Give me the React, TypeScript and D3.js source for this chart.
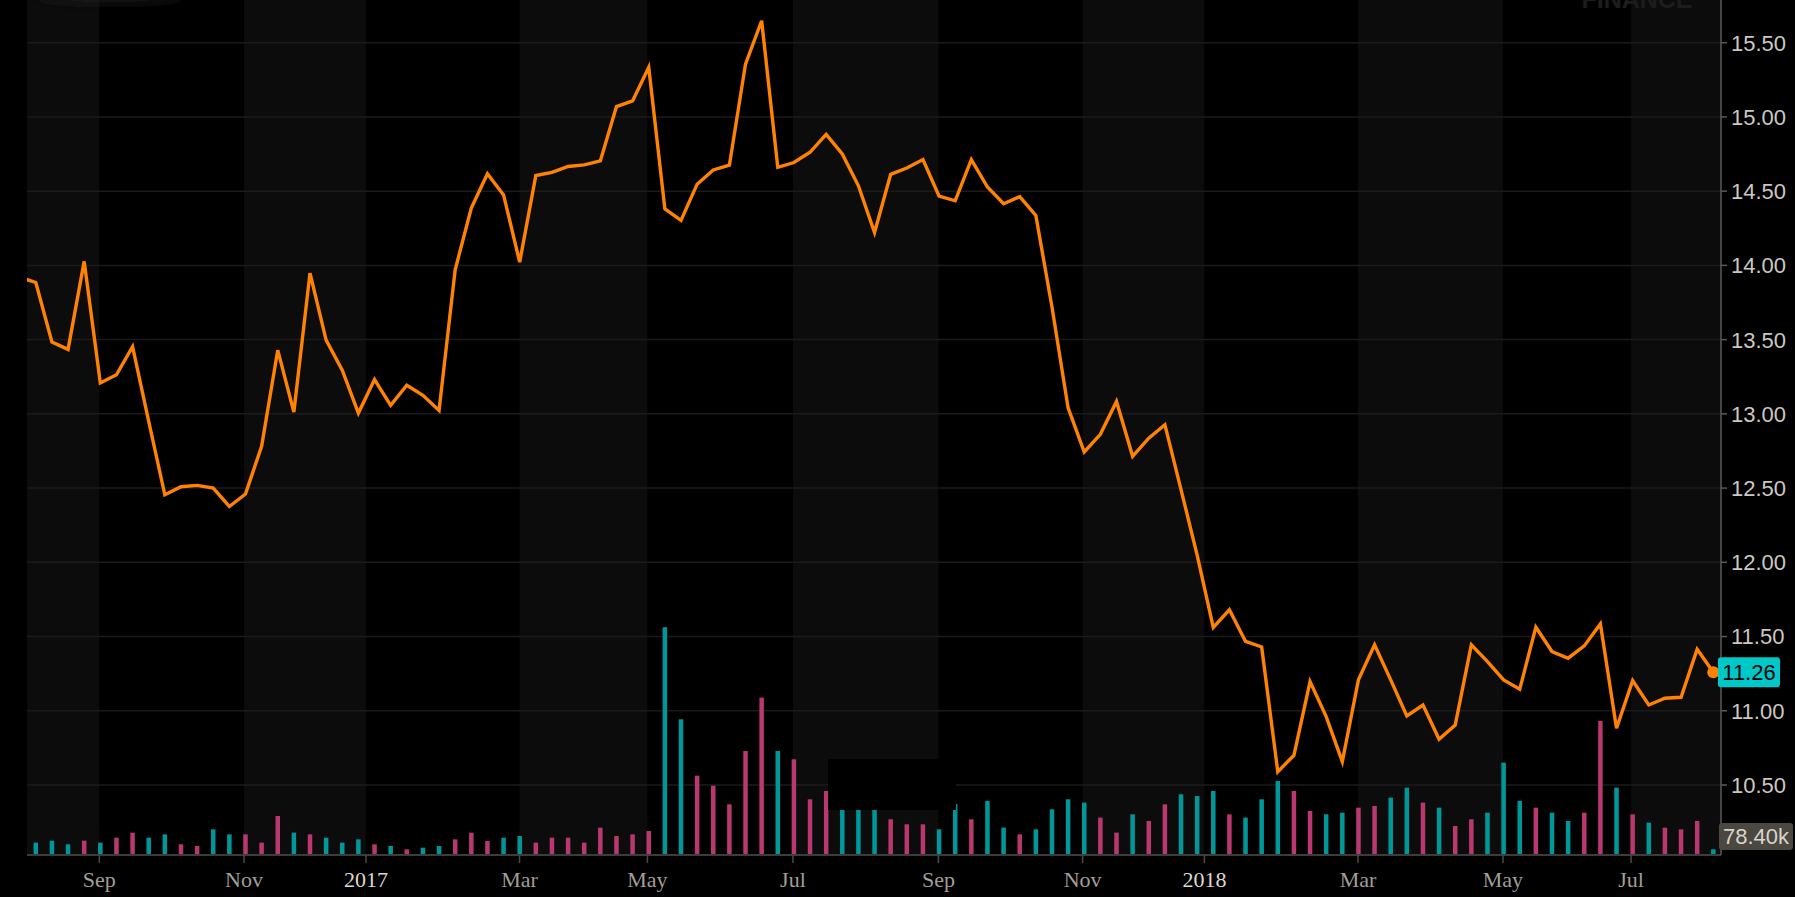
import React from "react";
import * as d3 from "d3";

// ---- data (weekly) ----
const prices: number[] = [
  13.92, 13.885, 13.484, 13.434, 14.027, 13.208, 13.263, 13.452, 12.95, 12.455,
  12.509, 12.518, 12.5, 12.376, 12.46, 12.782, 13.429, 13.012, 13.948, 13.497,
  13.294, 13.005, 13.231, 13.057, 13.193, 13.125, 13.023, 13.971, 14.386, 14.617,
  14.475, 14.022, 14.605, 14.626, 14.666, 14.677, 14.704, 15.07, 15.108, 15.334,
  14.381, 14.303, 14.547, 14.643, 14.675, 15.356, 15.648, 14.661, 14.693, 14.762,
  14.883, 14.751, 14.536, 14.222, 14.613, 14.656, 14.713, 14.466, 14.435, 14.713,
  14.528, 14.415, 14.463, 14.336, 13.72, 13.04, 12.743, 12.862, 13.083, 12.714,
  12.836, 12.927, 12.49, 12.048, 11.561, 11.68, 11.467, 11.43, 10.589, 10.7,
  11.197, 10.961, 10.657, 11.208, 11.444, 11.208, 10.965, 11.039, 10.808, 10.904,
  11.444, 11.331, 11.208, 11.145, 11.563, 11.399, 11.354, 11.437, 11.585, 10.882,
  11.203, 11.039, 11.084, 11.091, 11.415, 11.26,
];

// volume in thousands, same index as prices
const volumes: number[] = [
  160, 170, 197, 147, 197, 170, 238, 307, 238, 284,
  147, 124, 353, 284, 284, 170, 536, 307, 284, 238,
  170, 215, 147, 124, 78, 101, 124, 215, 307, 193,
  238, 261, 170, 238, 238, 170, 376, 261, 284, 330,
  3132, 1866, 1091, 954, 697, 1431, 2164, 1431, 1316, 766,
  880, 700, 700, 700, 491, 422, 422, 353, 700, 491,
  743, 376, 284, 353, 628, 766, 720, 514, 307, 559,
  468, 697, 834, 812, 880, 559, 514, 766, 1018, 880,
  605, 559, 582, 651, 674, 789, 926, 720, 651, 399,
  491, 582, 1270, 743, 651, 582, 468, 582, 1843, 926,
  559, 445, 376, 353, 468, 78.4,
];

// U = teal (up), D = magenta (down)
const volumeDirection: string =
  "UUUUDUDDUUDDUUDDDUDUUUDUDUUDDDUUDDDDDDDDUUDDDDDUDDDUUUDDDUUDUUDUUUUDDUDDUUUDUUUDDUUDDUUDUDDUUUDUUDDUDUDDDU";

const yTickValues: number[] = [10.5, 11, 11.5, 12, 12.5, 13, 13.5, 14, 14.5, 15, 15.5];

const xTickLabels: string[] = ["Sep", "Nov", "2017", "Mar", "May", "Jul", "Sep", "Nov", "2018", "Mar", "May", "Jul"];
// tick positions in week-index units
const xTickIndex: number[] = [4.94, 13.91, 21.47, 30.99, 38.92, 47.94, 56.96, 65.9, 73.45, 82.97, 91.96, 99.9];

const lastPriceLabel = "11.26";
const lastVolumeLabel = "78.40k";

// ---- layout ----
const W = 1795;
const H = 897;
const plotLeft = 27;
const plotRight = 1721;
const plotBottom = 855;

export default function App() {
  const n = prices.length;
  const x = d3.scaleLinear().domain([1, n - 1]).range([35.8, 1713.3]);
  const y = d3.scaleLinear().domain([10.5, 15.5]).range([785, 42.7]);
  const yVol = d3.scaleLinear().domain([0, 3300]).range([plotBottom, plotBottom - 240]);

  const line = d3
    .line<number>()
    .x((_, i) => x(i))
    .y((d) => y(d));

  const tickX = xTickIndex.map((t) => x(t));
  const bandEdges = [plotLeft, ...tickX, plotRight];
  const bands: { x0: number; x1: number; shaded: boolean }[] = [];
  for (let i = 0; i < bandEdges.length - 1; i++) {
    bands.push({ x0: bandEdges[i], x1: bandEdges[i + 1], shaded: i % 2 === 0 });
  }

  const teal = "#00979a";
  const pink = "#b8386f";
  const orange = "#ff8300";
  const barW = 4.5;

  const lastI = n - 1;
  const lastX = x(lastI);
  const lastY = y(prices[lastI]);

  return (
    <svg
      width={W}
      height={H}
      style={{ position: "absolute", left: 0, top: 0, display: "block" }}
    >
      <defs>
        <clipPath id="plotClip">
          <rect x={plotLeft} y={0} width={plotRight - plotLeft} height={plotBottom} />
        </clipPath>
        <filter id="blur" x="-50%" y="-200%" width="200%" height="500%">
          <feGaussianBlur stdDeviation="6" />
        </filter>
      </defs>
      <rect x={0} y={0} width={W} height={H} fill="#000" />

      {/* bands */}
      {bands.map((b, i) =>
        b.shaded ? (
          <rect key={i} x={b.x0} y={0} width={b.x1 - b.x0} height={plotBottom} fill="#0c0c0c" />
        ) : null
      )}

      {/* faint watermarks */}
      <ellipse cx={110} cy={-5} rx={75} ry={7} fill="#1c1c1c" filter="url(#blur)" />
      <text
        x={1637}
        y={8}
        textAnchor="middle"
        fontFamily="'Liberation Sans', Arial, sans-serif"
        fontWeight="bold"
        fontSize={25}
        fill="#1d1d1d"
      >
        FINANCE
      </text>

      {/* grid */}
      {yTickValues.map((v) => (
        <line
          key={v}
          x1={plotLeft}
          x2={plotRight}
          y1={y(v)}
          y2={y(v)}
          stroke="#1b1b1b"
          strokeWidth={1.5}
        />
      ))}

      {/* volume bars */}
      <g clipPath="url(#plotClip)">
        {volumes.map((v, i) => (
          <rect
            key={i}
            x={x(i) - barW / 2}
            y={yVol(v)}
            width={barW}
            height={plotBottom - yVol(v)}
            fill={volumeDirection[i] === "U" ? teal : pink}
          />
        ))}
      </g>

      {/* blanked overlay box present in the reference */}
      <rect x={828} y={759} width={128} height={51} fill="#000" />

      {/* price line */}
      <g clipPath="url(#plotClip)">
        <path
          d={line(prices) || ""}
          fill="none"
          stroke={orange}
          strokeWidth={3.4}
          strokeLinejoin="miter"
        />
      </g>

      {/* bottom axis */}
      <line x1={plotLeft} x2={plotRight} y1={plotBottom} y2={plotBottom} stroke="#3c3c3c" strokeWidth={2} />
      {tickX.map((tx, i) => (
        <g key={i}>
          <line x1={tx} x2={tx} y1={plotBottom} y2={plotBottom + 8} stroke="#4a4a4a" strokeWidth={1.5} />
          <text
            x={tx}
            y={887}
            textAnchor="middle"
            fontFamily="'Liberation Serif', 'Times New Roman', serif"
            fontSize={22}
            fill={/^\d{4}$/.test(xTickLabels[i]) ? "#ddd8d2" : "#a39d97"}
          >
            {xTickLabels[i]}
          </text>
        </g>
      ))}

      {/* right axis */}
      <line x1={plotRight} x2={plotRight} y1={0} y2={plotBottom} stroke="#5a5a5a" strokeWidth={1.5} />
      {yTickValues.map((v) => (
        <g key={v}>
          <line x1={plotRight} x2={plotRight + 6} y1={y(v)} y2={y(v)} stroke="#5a5a5a" strokeWidth={1.5} />
          <text
            x={1731}
            y={y(v)}
            dy="0.36em"
            fontFamily="'Liberation Sans', Arial, sans-serif"
            fontSize={22}
            fill="#cdc7c0"
          >
            {v.toFixed(2)}
          </text>
        </g>
      ))}

      {/* last price marker */}
      <circle cx={lastX} cy={lastY} r={6} fill={orange} />
      <rect x={1718} y={lastY - 15} width={62} height={30} rx={3} fill="#00c8c8" />
      <text
        x={1749}
        y={lastY}
        dy="0.36em"
        textAnchor="middle"
        fontFamily="'Liberation Sans', Arial, sans-serif"
        fontSize={22}
        fill="#000"
      >
        {lastPriceLabel}
      </text>

      {/* last volume label */}
      <rect x={1719} y={823} width={74} height={27} rx={3} fill="#4b4741" />
      <text
        x={1756}
        y={836.5}
        dy="0.36em"
        textAnchor="middle"
        fontFamily="'Liberation Sans', Arial, sans-serif"
        fontSize={22}
        fill="#d9d4cc"
      >
        {lastVolumeLabel}
      </text>
    </svg>
  );
}
